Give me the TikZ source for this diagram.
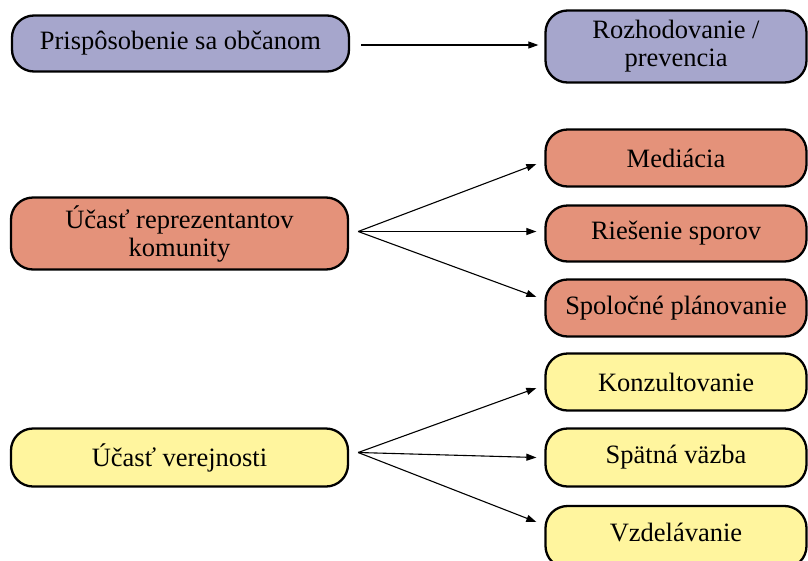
\documentclass[tikz,border=0pt]{standalone}
\usepackage{fontspec}
\setmainfont{Liberation Serif}
\usetikzlibrary{arrows.meta}
\definecolor{boxpurple}{RGB}{166,166,204}
\definecolor{boxsalmon}{RGB}{228,146,122}
\definecolor{boxyellow}{RGB}{255,245,158}
\tikzset{
  x=1pt, y=-1pt,
  box/.style={draw=black, line width=2.3pt, rounded corners=22pt, align=center,
    inner sep=0pt, font=\fontsize{26.5}{28}\selectfont},
  leftbox/.style={box, minimum width=337pt},
  rightbox/.style={box, minimum width=261pt},
  arr/.style={-{Triangle[length=10pt,width=7pt]}, line width=1.1pt}
}
\begin{document}
\begin{tikzpicture}
\useasboundingbox (0,0) rectangle (808,560);
% top row
\node[leftbox, fill=boxpurple, minimum height=56pt] (adapt) at (180.5,43.5) {Prispôsobenie sa občanom};
\node[rightbox, fill=boxpurple, minimum height=72pt] (decide) at (676,46.5) {Rozhodovanie /\\ prevencia};
% community representatives
\node[leftbox, fill=boxsalmon, minimum height=72pt] (repr) at (179.5,233.5) {Účasť reprezentantov\\ komunity};
\node[rightbox, fill=boxsalmon, minimum height=57pt] (med) at (676,158) {Mediácia};
\node[rightbox, fill=boxsalmon, minimum height=56pt] (spor) at (676,233.5) {Riešenie sporov};
\node[rightbox, fill=boxsalmon, minimum height=57pt] (plan) at (676,308) {Spoločné plánovanie};
% public participation
\node[leftbox, fill=boxyellow, minimum height=58pt] (pub) at (179.5,457.5) {Účasť verejnosti};
\node[rightbox, fill=boxyellow, minimum height=57pt] (kons) at (676,382) {Konzultovanie};
\node[rightbox, fill=boxyellow, minimum height=58pt] (spat) at (676,457.5) {Spätná väzba};
\node[rightbox, fill=boxyellow, minimum height=62pt, text depth=9pt] (vzd) at (676,537) {Vzdelávanie};
% connectors
\draw[arr] ([xshift=11pt,yshift=-1.5pt]adapt.east) -- ([xshift=-6pt,yshift=1.5pt]decide.west);
\draw[arr] ([xshift=9pt,yshift=2pt]repr.east) -- ([xshift=-8pt,yshift=-6pt]med.west);
\draw[arr] ([xshift=9pt,yshift=2pt]repr.east) -- ([xshift=-8pt,yshift=2pt]spor.west);
\draw[arr] ([xshift=9pt,yshift=2pt]repr.east) -- ([xshift=-8pt,yshift=11pt]plan.west);
\draw[arr] ([xshift=9pt,yshift=5pt]pub.east) -- ([xshift=-8pt,yshift=-6pt]kons.west);
\draw[arr] ([xshift=9pt,yshift=5pt]pub.east) -- ([xshift=-8pt,yshift=0pt]spat.west);
\draw[arr] ([xshift=9pt,yshift=5pt]pub.east) -- ([xshift=-8pt,yshift=15pt]vzd.west);
\end{tikzpicture}
\end{document}
